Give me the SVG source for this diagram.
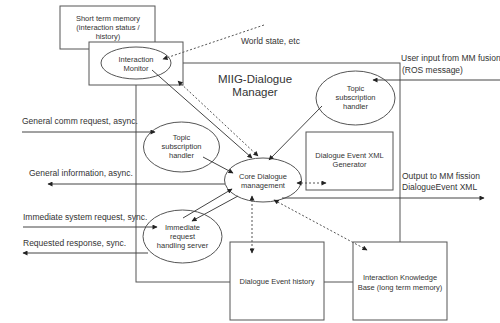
<svg xmlns="http://www.w3.org/2000/svg" width="500" height="323" viewBox="0 0 500 323">
  <style>
    .box { fill: #fff; stroke: #555; stroke-width: 1; }
    .frame { fill: none; stroke: #555; stroke-width: 1; }
    .ell { fill: #fff; stroke: #555; stroke-width: 1; }
    .lbl { font-family: "Liberation Sans", Arial, sans-serif; font-size: 7.5px; fill: #333; text-anchor: middle; }
    .side { font-family: "Liberation Sans", Arial, sans-serif; font-size: 8.5px; fill: #333; }
    .title { font-family: "Liberation Sans", Arial, sans-serif; font-size: 11.5px; fill: #333; text-anchor: middle; }
    .solid { fill: none; stroke: #444; stroke-width: 1; }
    .dash { fill: none; stroke: #555; stroke-width: 1; stroke-dasharray: 2 2; }
  </style>
  <defs>
    <marker id="head" viewBox="0 0 10 10" refX="9" refY="5" markerWidth="6" markerHeight="5" markerUnits="userSpaceOnUse" orient="auto-start-reverse">
      <path d="M0,0 L10,5 L0,10 z" fill="#222"/>
    </marker>
  </defs>

  <rect width="500" height="323" fill="#fff"/>

  <!-- dialogue manager frame -->
  <g id="manager">
    <rect class="frame" x="136" y="63" width="264" height="219"/>
    <text class="title" x="255" y="83">MIIG-Dialogue</text>
    <text class="title" x="255" y="96">Manager</text>
  </g>

  <g id="short-term-memory">
    <rect class="box" x="60" y="6" width="95" height="43"/>
    <text class="lbl" x="108" y="21">Short term memory</text>
    <text class="lbl" x="108" y="30">(interaction status /</text>
    <text class="lbl" x="108" y="39">history)</text>
  </g>

  <g id="interaction-monitor">
    <rect class="box" x="89" y="42" width="94" height="43"/>
    <ellipse class="ell" cx="136" cy="63" rx="35" ry="16"/>
    <text class="lbl" x="136" y="62">Interaction</text>
    <text class="lbl" x="136" y="71">Monitor</text>
  </g>

  <g id="xml-generator">
    <rect class="box" x="306" y="132" width="87" height="58"/>
    <text class="lbl" x="349.5" y="158">Dialogue Event XML</text>
    <text class="lbl" x="349.5" y="167">Generator</text>
  </g>

  <g id="event-history">
    <rect class="box" x="230" y="242" width="94" height="78"/>
    <text class="lbl" x="277" y="284">Dialogue Event history</text>
  </g>

  <g id="knowledge-base">
    <rect class="box" x="353" y="242" width="94" height="78"/>
    <text class="lbl" x="400" y="280">Interaction Knowledge</text>
    <text class="lbl" x="400" y="290">Base (long term memory)</text>
  </g>

  <g id="topic-handler-left">
    <ellipse class="ell" cx="181.5" cy="147" rx="38" ry="25"/>
    <text class="lbl" x="181.5" y="140">Topic</text>
    <text class="lbl" x="181.5" y="149">subscription</text>
    <text class="lbl" x="181.5" y="158">handler</text>
  </g>

  <g id="topic-handler-right">
    <ellipse class="ell" cx="355.5" cy="98" rx="39.5" ry="27"/>
    <text class="lbl" x="355.5" y="91">Topic</text>
    <text class="lbl" x="355.5" y="100">subscription</text>
    <text class="lbl" x="355.5" y="109">handler</text>
  </g>

  <g id="request-server">
    <ellipse class="ell" cx="182.5" cy="236.5" rx="39.5" ry="26.5"/>
    <text class="lbl" x="182.5" y="230">Immediate</text>
    <text class="lbl" x="182.5" y="239">request</text>
    <text class="lbl" x="182.5" y="248">handling server</text>
  </g>

  <g id="core">
    <ellipse class="ell" cx="263" cy="180" rx="38.5" ry="22"/>
    <text class="lbl" x="263" y="179">Core Dialogue</text>
    <text class="lbl" x="263" y="188">management</text>
  </g>

  <g id="connectors">
    <!-- world state feed into the monitor -->
    <line class="dash" x1="264" y1="25" x2="163" y2="59" marker-end="url(#head)"/>
    <!-- monitor and core -->
    <line class="solid" x1="152" y1="70" x2="252" y2="158" marker-end="url(#head)"/>
    <line class="dash" x1="178" y1="81" x2="258" y2="156" marker-start="url(#head)" marker-end="url(#head)"/>
    <!-- topic handlers into core -->
    <line class="solid" x1="203" y1="157" x2="233" y2="173" marker-end="url(#head)"/>
    <line class="solid" x1="322" y1="106" x2="269" y2="160" marker-end="url(#head)"/>
    <!-- user input -->
    <line class="solid" x1="500" y1="80" x2="373" y2="80" marker-end="url(#head)"/>
    <!-- core to xml generator -->
    <line class="dash" x1="297" y1="183" x2="326" y2="183" marker-start="url(#head)" marker-end="url(#head)"/>
    <!-- output to fission -->
    <line class="solid" x1="282" y1="198" x2="484" y2="198" marker-end="url(#head)"/>
    <!-- core to event history -->
    <line class="dash" x1="252" y1="196" x2="252" y2="253" marker-start="url(#head)" marker-end="url(#head)"/>
    <!-- core to knowledge base -->
    <line class="dash" x1="274" y1="200" x2="367" y2="250" marker-start="url(#head)" marker-end="url(#head)"/>
    <!-- request server and core -->
    <line class="solid" x1="183" y1="218" x2="232" y2="189" marker-end="url(#head)"/>
    <line class="solid" x1="238" y1="196" x2="192" y2="221" marker-end="url(#head)"/>
    <!-- external interfaces on the left -->
    <line class="solid" x1="22" y1="132" x2="155" y2="132" marker-end="url(#head)"/>
    <line class="solid" x1="225" y1="184" x2="48" y2="184" marker-end="url(#head)"/>
    <line class="solid" x1="23" y1="227" x2="157" y2="227" marker-end="url(#head)"/>
    <line class="solid" x1="148" y1="253" x2="23" y2="253" marker-end="url(#head)"/>
  </g>

  <g id="interface-labels">
    <text class="side" x="22" y="124">General comm request, async.</text>
    <text class="side" x="29" y="176">General information, async.</text>
    <text class="side" x="23" y="220">Immediate system request, sync.</text>
    <text class="side" x="23" y="246">Requested response, sync.</text>
    <text class="side" x="241" y="44">World state, etc</text>
    <text class="side" x="401" y="61" font-size="7.8">User input from MM fusion</text>
    <text class="side" x="402" y="73">(ROS message)</text>
    <text class="side" x="402" y="179">Output to MM fission</text>
    <text class="side" x="402" y="190">DialogueEvent XML</text>
  </g>
</svg>
